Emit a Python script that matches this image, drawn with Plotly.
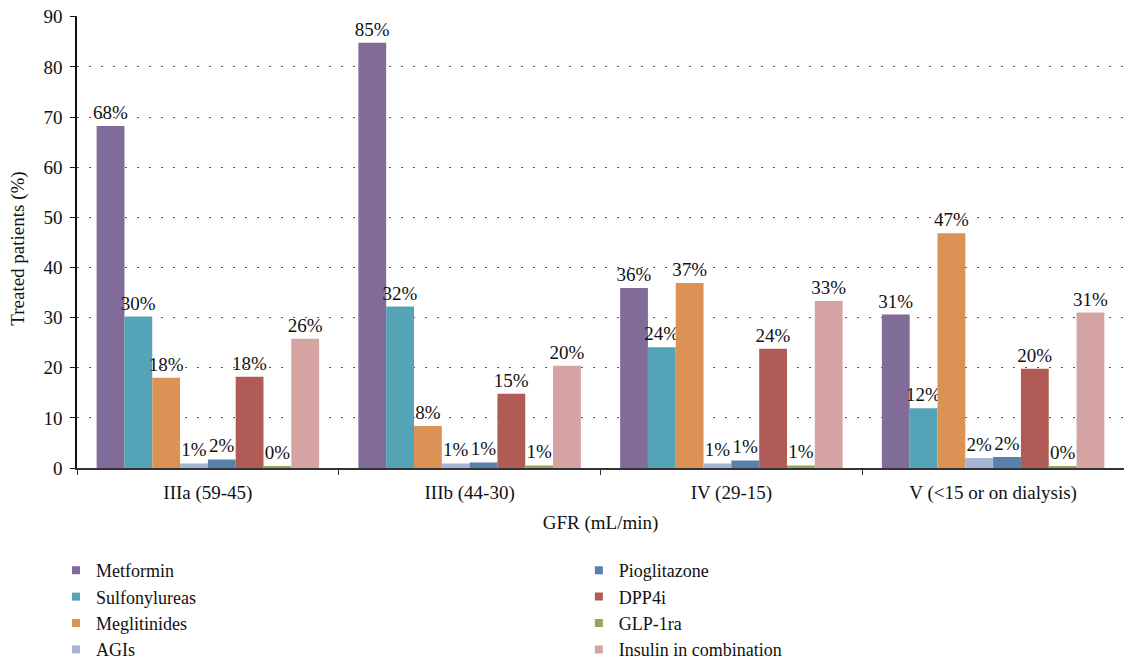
import plotly.graph_objects as go

categories = ["IIIa (59-45)", "IIIb (44-30)", "IV (29-15)", "V (<15 or on dialysis)"]
series_names = ["Metformin", "Sulfonylureas", "Meglitinides", "AGIs",
                "Pioglitazone", "DPP4i", "GLP-1ra", "Insulin in combination"]
metformin = [68.2, 84.8, 35.9, 30.6]
sulfonylureas = [30.2, 32.2, 24.1, 11.9]
meglitinides = [18.0, 8.4, 36.9, 46.8]
agis = [0.9, 0.9, 0.9, 2.0]
pioglitazone = [1.7, 1.1, 1.5, 2.2]
dpp4i = [18.2, 14.8, 23.8, 19.8]
glp1ra = [0.4, 0.5, 0.5, 0.4]
insulin = [25.8, 20.4, 33.3, 31.0]
labels = [
    ["68%", "85%", "36%", "31%"],
    ["30%", "32%", "24%", "12%"],
    ["18%", "8%", "37%", "47%"],
    ["1%", "1%", "1%", "2%"],
    ["2%", "1%", "1%", "2%"],
    ["18%", "15%", "24%", "20%"],
    ["0%", "1%", "1%", "0%"],
    ["26%", "20%", "33%", "31%"],
]
values = [metformin, sulfonylureas, meglitinides, agis, pioglitazone, dpp4i, glp1ra, insulin]
colors = ["#806B99", "#54A3B6", "#DA9355", "#A3B5D3", "#5581AB", "#B05B56", "#8DAA5B", "#D5A3A2"]
y_ticks = [0, 10, 20, 30, 40, 50, 60, 70, 80, 90]
y_title = "Treated patients (%)"
x_title = "GFR (mL/min)"

FONT = "Liberation Serif"
fig = go.Figure()
for name, vals, col, lab in zip(series_names, values, colors, labels):
    fig.add_trace(go.Bar(
        name=name, x=categories, y=vals, marker=dict(color=col, line=dict(width=0)),
        text=lab, textposition="outside", textfont=dict(family=FONT, size=19, color="#111"),
        cliponaxis=False, showlegend=False, constraintext="none",
    ))

for i, (name, col) in enumerate(zip(series_names, colors)):
    fig.add_trace(go.Scatter(
        x=[None], y=[None], mode="markers", name=name,
        marker=dict(symbol="square", size=8, color=col),
        legend="legend" if i < 4 else "legend2",
    ))

legend_common = dict(
    font=dict(family=FONT, size=18, color="#111"),
    bgcolor="rgba(0,0,0,0)", itemwidth=30, tracegroupgap=0,
    xref="container", yref="container", xanchor="left", yanchor="top",
)
fig.update_layout(
    width=1124, height=660,
    margin=dict(l=77, r=0, t=16, b=192, autoexpand=False),
    paper_bgcolor="white", plot_bgcolor="white",
    barmode="group", bargap=0.15, bargroupgap=0,
    font=dict(family=FONT, size=19, color="#111"),
    legend=dict(x=0.0498, y=0.1636, **legend_common),
    legend2=dict(x=0.515, y=0.1636, **legend_common),
    xaxis=dict(
        type="category", showline=True, linecolor="#333", linewidth=1.5,
        ticks="outside", tickson="boundaries", ticklen=5, tickcolor="#333",
        tickfont=dict(family=FONT, size=19, color="#111"), tickangle=0,
        ticklabelstandoff=6,
        title=dict(text=x_title, font=dict(family=FONT, size=19, color="#111"), standoff=13),
        showgrid=False,
    ),
    yaxis=dict(
        range=[0, 90.15], tickvals=y_ticks, showline=True, linecolor="#111", linewidth=1.5,
        ticks="outside", ticklen=5, tickcolor="#111",
        tickfont=dict(family=FONT, size=19, color="#111"), ticklabelstandoff=4,
        showgrid=True, gridcolor="#555", gridwidth=1, griddash="2px,10px",
        zeroline=False,
    ),
    annotations=[dict(
        text=y_title, textangle=-90, xref="paper", yref="paper",
        x=-0.0564, y=0.485, xanchor="center", yanchor="middle", showarrow=False,
        font=dict(family=FONT, size=19, color="#111"),
    )],
)
fig.write_html(
    "out.html",
    config={"displayModeBar": False},
    post_script="document.body.style.margin='0';document.body.style.overflow='hidden';",
)
